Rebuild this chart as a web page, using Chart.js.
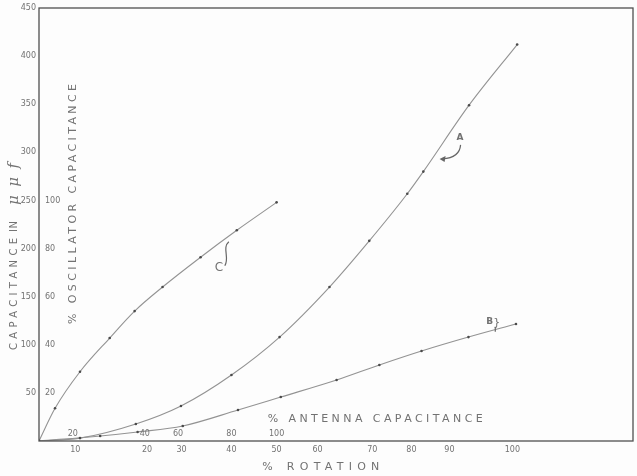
<!DOCTYPE html>
<html>
<head>
<meta charset="utf-8">
<script src="https://cdn.jsdelivr.net/npm/chart.js@4.4.1/dist/chart.umd.min.js"></script>
<style>
  html, body { margin: 0; padding: 0; background: #fdfdfd; }
  #wrap { width: 637px; height: 476px; }
</style>
</head>
<body>
<div id="wrap"><canvas id="myChart"></canvas></div>
<script>
// x axis is in "paper units" (0..100 across the frame); the % rotation scale is not linear
const rotationLabels = ['10', '20', '30', '40', '50', '60', '70', '80', '90', '100'];
const rotationPos = [6.1, 18.2, 24.0, 32.4, 40.0, 46.9, 56.1, 62.7, 69.1, 79.7];
const antennaLabels = ['20', '40', '60', '80', '100'];
const antennaPos = [5.7, 17.8, 23.4, 32.4, 40.0];

const capTicks = [50, 100, 150, 200, 250, 300, 350, 400, 450];
const oscLabels = ['20', '40', '60', '80', '100'];
const oscAt = [50, 100, 150, 200, 250];

// curve A
const aX = [0, 6.9, 16.3, 23.9, 32.4, 40.5, 48.9, 55.6, 62.0, 64.7, 72.4, 80.5];
const aY = [0, 3, 17.7, 36.4, 68.6, 108, 160, 208, 257, 280, 349, 412];
// curve B
const bX = [0, 10.3, 16.6, 24.2, 33.5, 40.7, 50.1, 57.3, 64.4, 72.3, 80.3];
const bY = [0, 5.2, 9.4, 15.6, 32.2, 45.7, 63.4, 79, 93.5, 108, 121.6];
// curve C
const cX = [0, 2.7, 6.9, 11.9, 16.1, 20.8, 27.2, 33.3, 40.0];
const cY = [0, 34, 72, 107, 135, 160, 191, 219, 248];

const ink = '#727272';
const lineCol = '#939393';

const toPts = (xs, ys) => xs.map((v, i) => ({ x: v, y: ys[i] }));

const curve = (xs, ys) => ({
  data: toPts(xs, ys),
  showLine: true,
  borderColor: lineCol,
  borderWidth: 1.1,
  pointRadius: 1.3,
  pointBackgroundColor: '#4a4a4a',
  pointBorderWidth: 0,
  cubicInterpolationMode: 'monotone',
});

// draw text stretched (by letter spacing) over a given length, starting at x
function stretched(ctx, text, x, y, len) {
  ctx.textAlign = 'left';
  try { ctx.letterSpacing = '0px'; } catch (e) {}
  const w0 = ctx.measureText(text).width;
  const sp = Math.max(0, (len - w0) / (text.length - 1));
  try { ctx.letterSpacing = sp + 'px'; } catch (e) {}
  ctx.fillText(text, x, y);
  try { ctx.letterSpacing = '0px'; } catch (e) {}
}

const overlay = {
  id: 'overlay',
  afterDraw(chart) {
    const { ctx, chartArea: a, scales: { x, y } } = chart;
    ctx.save();
    ctx.strokeStyle = '#505050';
    ctx.lineWidth = 1.3;
    ctx.strokeRect(a.left, a.top, a.right - a.left, a.bottom - a.top);

    ctx.fillStyle = ink;
    ctx.font = '8px "DejaVu Sans"';
    ctx.textBaseline = 'middle';

    // % oscillator capacitance ticks, inside the frame
    ctx.textAlign = 'left';
    oscLabels.forEach((t, i) => ctx.fillText(t, a.left + 6, y.getPixelForValue(oscAt[i])));

    // % antenna capacitance ticks, just above the bottom line
    ctx.textAlign = 'center';
    antennaLabels.forEach((t, i) => ctx.fillText(t, x.getPixelForValue(antennaPos[i]), a.bottom - 7));

    // titles
    ctx.font = '11px "DejaVu Sans"';
    stretched(ctx, '% ANTENNA CAPACITANCE', x.getPixelForValue(38.5), y.getPixelForValue(23), 215);
    stretched(ctx, '% ROTATION', x.getPixelForValue(37.6), a.bottom + 26, 117);

    ctx.save();
    ctx.translate(14, a.bottom);
    ctx.rotate(-Math.PI / 2);
    ctx.font = '10px "DejaVu Sans"';
    stretched(ctx, 'CAPACITANCE', 91, 0, 112);
    stretched(ctx, 'IN', 209, 0, 11);
    ctx.font = 'italic 15px "DejaVu Serif"';
    stretched(ctx, 'μμf', 236, 0, 42);
    ctx.restore();

    ctx.save();
    ctx.translate(a.left + 34, a.bottom);
    ctx.rotate(-Math.PI / 2);
    ctx.font = '11px "DejaVu Sans"';
    stretched(ctx, '% OSCILLATOR CAPACITANCE', 117, 0, 240);
    ctx.restore();

    // curve labels
    ctx.font = 'bold 9px "DejaVu Sans"';
    ctx.textAlign = 'left';
    ctx.strokeStyle = '#666';
    ctx.lineWidth = 1.2;
    // A with curved arrow
    const ax = x.getPixelForValue(70.3), ay = y.getPixelForValue(315);
    ctx.fillText('A', ax, ay);
    ctx.beginPath();
    ctx.moveTo(ax + 4, ay + 7);
    ctx.quadraticCurveTo(ax + 3, ay + 20, ax - 14, ay + 21);
    ctx.stroke();
    ctx.beginPath();
    ctx.moveTo(ax - 17, ay + 21);
    ctx.lineTo(ax - 11, ay + 18);
    ctx.lineTo(ax - 12, ay + 24);
    ctx.closePath();
    ctx.fillStyle = '#666';
    ctx.fill();

    // B with bracket
    const bx = x.getPixelForValue(75.3), by = y.getPixelForValue(124);
    ctx.fillStyle = ink;
    ctx.fillText('B', bx, by);
    ctx.font = '11px "DejaVu Sans"';
    ctx.fillText('}', bx + 7, by + 1);
    ctx.beginPath();
    ctx.moveTo(bx + 9, by + 5);
    ctx.lineTo(bx + 9, by + 10);
    ctx.stroke();

    // C with hook
    const cx = x.getPixelForValue(29.6), cy = y.getPixelForValue(180);
    ctx.font = '12px "DejaVu Sans"';
    ctx.fillText('C', cx, cy);
    ctx.beginPath();
    ctx.moveTo(cx + 14, cy - 26);
    ctx.bezierCurveTo(cx + 7, cy - 20, cx + 15, cy - 10, cx + 10, cy - 2);
    ctx.stroke();

    ctx.restore();
  }
};

new Chart(document.getElementById('myChart').getContext('2d'), {
  type: 'scatter',
  data: { datasets: [curve(aX, aY), curve(bX, bY), curve(cX, cY)] },
  options: {
    responsive: true,
    maintainAspectRatio: false,
    animation: false,
    events: [],
    layout: { padding: { top: 8, right: 3, left: 0, bottom: 0 } },
    plugins: { legend: { display: false }, tooltip: { enabled: false } },
    scales: {
      x: {
        type: 'linear',
        min: 0,
        max: 100,
        grid: { display: false, drawTicks: false },
        border: { display: false },
        afterFit: (s) => { s.height = 35; },
        afterBuildTicks: (s) => { s.ticks = rotationPos.map((v) => ({ value: v })); },
        ticks: {
          autoSkip: false,
          maxRotation: 0,
          padding: 4,
          color: ink,
          font: { family: 'DejaVu Sans', size: 8 },
          callback: (v, i) => rotationLabels[i],
        },
      },
      y: {
        type: 'linear',
        min: 0,
        max: 450,
        grid: { display: false, drawTicks: false },
        border: { display: false },
        afterFit: (s) => { s.width = 39; },
        afterBuildTicks: (s) => { s.ticks = capTicks.map((v) => ({ value: v })); },
        ticks: {
          padding: 3,
          color: ink,
          font: { family: 'DejaVu Sans', size: 8 },
          callback: (v) => String(v),
        },
      },
    },
  },
  plugins: [overlay],
});
</script>
</body>
</html>
